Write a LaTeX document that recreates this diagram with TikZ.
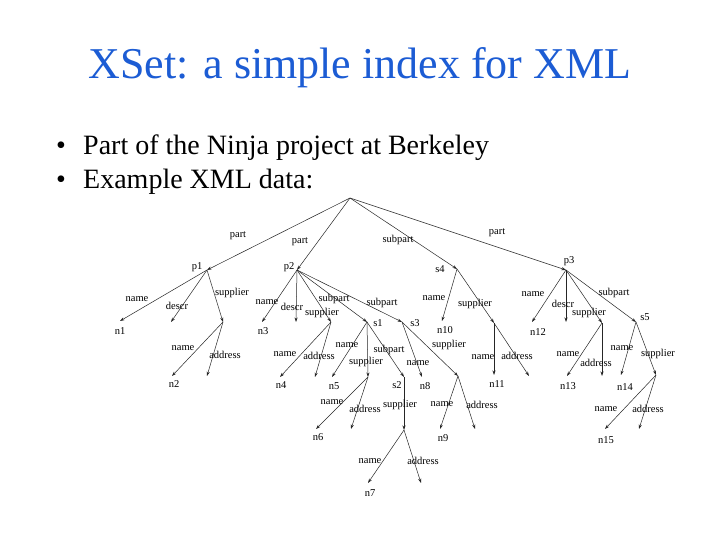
\documentclass[tikz,border=0pt]{standalone}
\usepackage{fontspec}
\setmainfont{Liberation Serif}
\usetikzlibrary{arrows.meta}
\definecolor{titleblue}{RGB}{28,92,212}
\begin{document}
\begin{tikzpicture}[x=1pt,y=-1pt,
  edge/.style={draw=black!85, line width=0.5pt, -{Stealth[length=4.5pt,width=3pt]}},
  lbl/.style={font=\fontsize{10.5}{11}\selectfont, inner sep=0pt},
  nlbl/.style={font=\fontsize{10.5}{11}\selectfont, inner sep=0pt},
  title/.style={font=\fontsize{44}{50}\selectfont, text=titleblue, inner sep=0pt, anchor=base},
  bul/.style={font=\fontsize{28}{32}\selectfont, inner sep=0pt, anchor=base west}]
\useasboundingbox[fill=white] (0,0) rectangle (720,540);
\node[title] (ttl) at (360,79) {XSet: a simple index for XML};
\node[bul] (dot1) at (56,155) {•};
\node[bul] (b1) at (83,155) {Part of the Ninja project at Berkeley};
\node[bul] (dot2) at (56,189) {•};
\node[bul] (b2) at (83,189) {Example XML data:};
% tree points
\coordinate (root) at (350,198);
\coordinate (p1) at (207,270);
\coordinate (p2) at (297,270);
\coordinate (s4) at (457,269);
\coordinate (p3) at (566,270);
\coordinate (n1) at (120,321);
\coordinate (d1) at (171,322);
\coordinate (sp1) at (223,322);
\coordinate (n2) at (172,376);
\coordinate (a1) at (207,376);
\coordinate (n3) at (262,322);
\coordinate (d2) at (296,322);
\coordinate (sp2) at (331,322);
\coordinate (s1) at (367,322);
\coordinate (s3) at (402,322);
\coordinate (n4) at (280,377);
\coordinate (a2) at (315,377);
\coordinate (n5) at (332,377);
\coordinate (sp3) at (368,377);
\coordinate (s2) at (404,377);
\coordinate (n6) at (316,429);
\coordinate (a3) at (351,429);
\coordinate (sp4) at (404,430);
\coordinate (n7) at (368,483);
\coordinate (a4) at (421,483);
\coordinate (n8) at (422,377);
\coordinate (sp5) at (458,376);
\coordinate (n9) at (440,429);
\coordinate (a5) at (475,429);
\coordinate (n10) at (442,321);
\coordinate (sp6) at (494,323);
\coordinate (n11) at (494,375);
\coordinate (a6) at (529,376);
\coordinate (n12) at (532,322);
\coordinate (d3) at (566,322);
\coordinate (sp7) at (602,323);
\coordinate (s5) at (636,322);
\coordinate (n13) at (567,376);
\coordinate (a7) at (602,376);
\coordinate (n14) at (621,375);
\coordinate (sp8) at (656,375);
\coordinate (n15) at (605,429);
\coordinate (a8) at (639,429);
% edges with labels
\newcommand\edg[5]{\draw[edge] (#1) -- (#2); \node[lbl] at (#4,#5) {#3};}
\edg{root}{p1}{part}{238}{236}
\edg{root}{p2}{part}{300}{242}
\edg{root}{s4}{subpart}{398}{240}
\edg{root}{p3}{part}{497}{233}
\edg{p1}{n1}{name}{137}{299}
\edg{p1}{d1}{descr}{177}{306}
\edg{p1}{sp1}{supplier}{232}{293}
\edg{sp1}{n2}{name}{183}{348}
\edg{sp1}{a1}{address}{225}{355}
\edg{p2}{n3}{name}{267}{302}
\edg{p2}{d2}{descr}{292}{307}
\edg{p2}{sp2}{supplier}{322}{313}
\edg{p2}{s1}{subpart}{334}{299}
\edg{p2}{s3}{subpart}{382}{303}
\edg{sp2}{n4}{name}{285}{354}
\edg{sp2}{a2}{address}{319}{356}
\edg{s1}{n5}{name}{347}{345}
\edg{s1}{sp3}{supplier}{366}{362}
\edg{s1}{s2}{subpart}{389}{350}
\edg{sp3}{n6}{name}{332}{402}
\edg{sp3}{a3}{address}{365}{409}
\edg{s2}{sp4}{supplier}{400}{405}
\edg{sp4}{n7}{name}{370}{461}
\edg{sp4}{a4}{address}{423}{461}
\edg{s3}{n8}{name}{418}{363}
\edg{s3}{sp5}{supplier}{449}{345}
\edg{sp5}{n9}{name}{442}{404}
\edg{sp5}{a5}{address}{482}{405}
\edg{s4}{n10}{name}{434}{298}
\edg{s4}{sp6}{supplier}{475}{304}
\edg{sp6}{n11}{name}{483}{357}
\edg{sp6}{a6}{address}{517}{356}
\edg{p3}{n12}{name}{533}{294}
\edg{p3}{d3}{descr}{563}{304}
\edg{p3}{sp7}{supplier}{589}{313}
\edg{p3}{s5}{subpart}{614}{293}
\edg{sp7}{n13}{name}{568}{354}
\edg{sp7}{a7}{address}{596}{363}
\edg{s5}{n14}{name}{622}{348}
\edg{s5}{sp8}{supplier}{658}{354}
\edg{sp8}{n15}{name}{606}{409}
\edg{sp8}{a8}{address}{648}{409}
% node names
\node[nlbl] (tp1) at (197,267) {p1};
\node[nlbl] (tp2) at (289,267) {p2};
\node[nlbl] (ts4) at (440,269) {s4};
\node[nlbl] (tp3) at (569,261) {p3};
\node[nlbl] (ts1) at (378,323) {s1};
\node[nlbl] (ts2) at (397,385) {s2};
\node[nlbl] (ts3) at (415,323) {s3};
\node[nlbl] (ts5) at (645,317) {s5};
\node[nlbl] (tn1) at (120,331) {n1};
\node[nlbl] (tn2) at (174,384) {n2};
\node[nlbl] (tn3) at (263,331) {n3};
\node[nlbl] (tn4) at (281,385) {n4};
\node[nlbl] (tn5) at (334,386) {n5};
\node[nlbl] (tn6) at (318,437) {n6};
\node[nlbl] (tn7) at (370,493) {n7};
\node[nlbl] (tn8) at (425,386) {n8};
\node[nlbl] (tn9) at (443,438) {n9};
\node[nlbl] (tn10) at (445,330) {n10};
\node[nlbl] (tn11) at (497,384) {n11};
\node[nlbl] (tn12) at (538,332) {n12};
\node[nlbl] (tn13) at (568,386) {n13};
\node[nlbl] (tn14) at (625,387) {n14};
\node[nlbl] (tn15) at (606,440) {n15};
\end{tikzpicture}
\end{document}
